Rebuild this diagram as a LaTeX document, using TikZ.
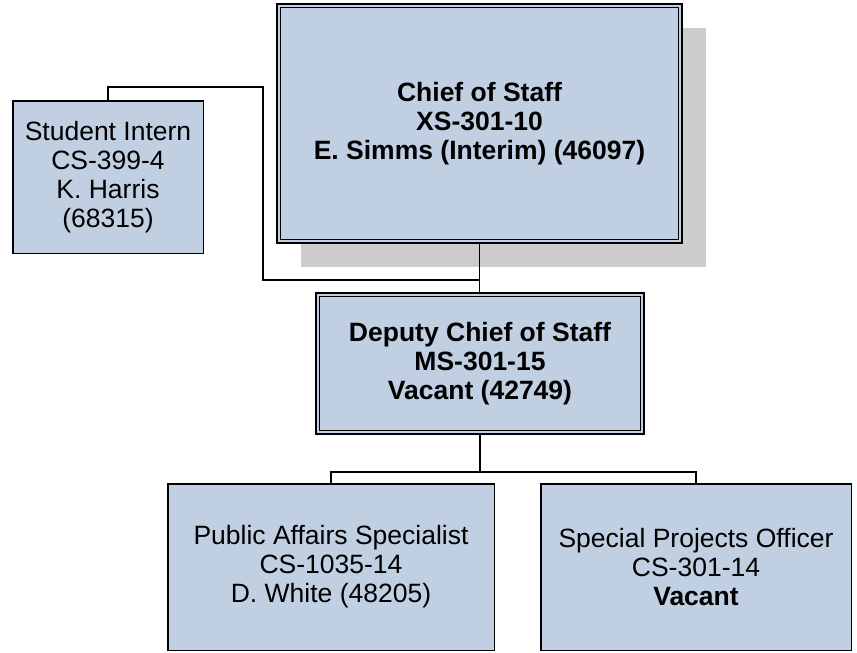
\documentclass[tikz,border=0pt]{standalone}
\usepackage{fontspec}
\setmainfont{Liberation Sans}
\usetikzlibrary{shadows}

\definecolor{boxfill}{RGB}{193,207,226}
\definecolor{shadowgray}{RGB}{204,204,204}

\begin{document}
\begin{tikzpicture}[x=1pt, y=-1pt,
    post/.style={draw=black, fill=boxfill, line width=1.5pt,
      inner sep=0pt, outer sep=0pt, align=center,
      font=\fontsize{26.5}{29}\selectfont},
    headpost/.style={post, line width=2pt,
      font=\fontsize{26.5}{29}\selectfont\bfseries},
    innerframe/.style={draw=black, line width=1pt},
    link/.style={draw=black, line width=1.5pt}
  ]
  \useasboundingbox (0,0) rectangle (857,653);

  \node[headpost, minimum width=405pt, minimum height=239pt,
    drop shadow={shadow xshift=24pt, shadow yshift=-24pt,
      %shadow scale=1.01,
      fill=shadowgray, opacity=1}
    ] (chief) at (479.5,123.5)
    {Chief of Staff\\XS-301-10\\E. Simms (Interim) (46097)};
  \draw[innerframe] ([shift={(3.5,3.5)}]chief.north west)
    rectangle ([shift={(-3.5,-3.5)}]chief.south east);

  \node[post, minimum width=190.5pt, minimum height=152.5pt]
    (intern) at (108,177) {Student Intern\\CS-399-4\\K. Harris\\(68315)};

  \node[headpost, minimum width=328pt, minimum height=141pt]
    (deputy) at (480,363.5)
    {Deputy Chief of Staff\\MS-301-15\\Vacant (42749)};
  \draw[innerframe] ([shift={(3.5,3.5)}]deputy.north west)
    rectangle ([shift={(-3.5,-3.5)}]deputy.south east);

  \node[post, minimum width=326.5pt, minimum height=166.5pt]
    (affairs) at (331,567)
    {Public Affairs Specialist\\CS-1035-14\\D. White (48205)};
  \node[post, minimum width=310.5pt, minimum height=166.5pt]
    (projects) at (696,567)
    {Special Projects Officer\\CS-301-14\\\textbf{Vacant}};

  % connectors
  \coordinate (internbend) at (263,87);
  \coordinate (join) at (chief.south |- 0,280);
  \coordinate (bus) at (deputy.south |- 0,472);
  \draw[link] (chief.south) -- (chief.south |- deputy.north);
  \draw[link] (intern.north) |- (internbend) |- (join);
  \draw[link] (deputy.south) -- (bus);
  \draw[link] (affairs.north) |- (bus) -| (projects.north);
\end{tikzpicture}
\end{document}
